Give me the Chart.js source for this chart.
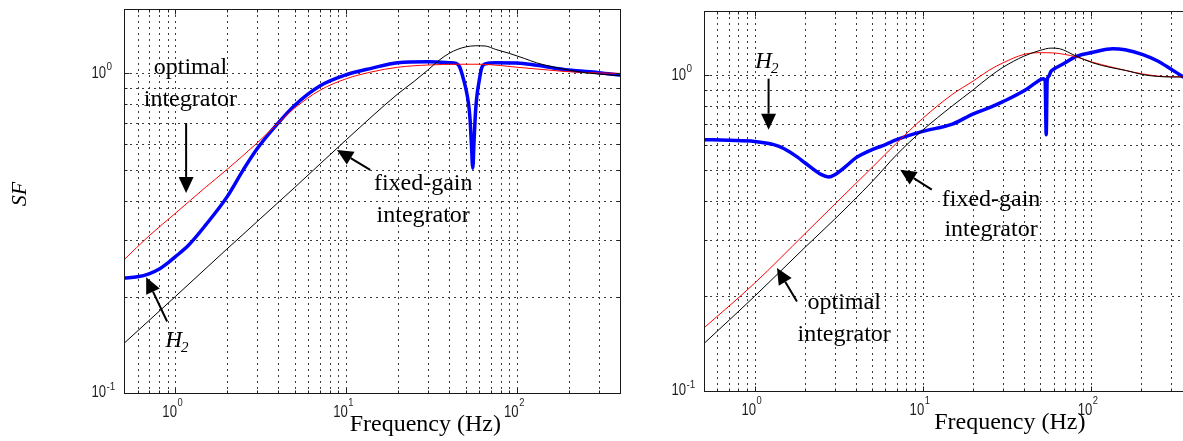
<!DOCTYPE html>
<html><head><meta charset="utf-8">
<script src="https://cdn.jsdelivr.net/npm/chart.js@4.4.1/dist/chart.umd.min.js"></script>
<style>
html,body{margin:0;padding:0;background:#fff;overflow:hidden;width:1183px;height:441px;position:relative;}
canvas{position:absolute;top:0;}
#c1{left:0;}
#c2{left:630px;}
</style></head><body>
<canvas id="c1" width="630" height="441"></canvas>
<canvas id="c2" width="570" height="441"></canvas>
<script>
// ---------- tick values ----------
const xGridTicks = [0.6,0.7,0.8,0.9,1,2,3,4,5,6,7,8,9,10,20,30,40,50,60,70,80,90,100,200,300,400];
const yGridTicks = [0.2,0.3,0.4,0.5,0.6,0.7,0.8,0.9,1];
const xLabelTicks = [1,10,100];
const yLabelTicks = [0.1,1];

// ---------- left panel data ----------
const leftFixedFreq = [0.5,1,2,5,10,20,25,30,35,40,45,50,57,65,75,90,110,130,160,200,250,300,400];
const leftFixedSF   = [0.143,0.2005,0.282,0.44,0.62,0.862,0.945,1.024,1.10,1.155,1.19,1.21,1.22,1.218,1.188,1.155,1.114,1.079,1.049,1.024,1.005,0.995,0.983];

const leftOptFreq = [0.5,0.7,1,1.5,2,3,4,5,7,10,14,20,30,45,60,80,100,150,200,300,400];
const leftOptSF   = [0.261,0.31,0.365,0.44,0.50,0.605,0.70,0.78,0.885,0.962,1.01,1.045,1.062,1.068,1.068,1.058,1.045,1.025,1.012,1.003,1.0];

const leftH2Freq = [0.5,0.6,0.7,0.8,0.9,1,1.2,1.5,2,2.5,3,4,5,7,10,14,20,30,40,44,46,48,50,52,53,54,55,56,57,58,60,62,65,75,100,130,200,300,400];
const leftH2SF   = [0.229,0.231,0.236,0.244,0.255,0.267,0.291,0.335,0.41,0.5,0.58,0.70,0.795,0.913,0.99,1.037,1.08,1.087,1.08,1.075,1.05,0.98,0.9,0.8,0.72,0.6,0.505,0.62,0.75,0.84,0.95,1.04,1.07,1.08,1.078,1.06,1.024,1.005,0.988];

// ---------- right panel data ----------
const rightFixedFreq = [0.5,1,2,3,5,7,10,15,20,25,30,40,50,58,65,82,103,130,163,204,250,300,400];
const rightFixedSF   = [0.141,0.199,0.285,0.35,0.46,0.56,0.67,0.80,0.90,0.99,1.06,1.15,1.2,1.22,1.215,1.15,1.095,1.06,1.035,1.005,0.992,0.988,0.988];

const rightOptFreq = [0.5,1,2,3,5,7,10,15,20,25,30,40,50,60,70,82,103,130,163,204,250,300,400];
const rightOptSF   = [0.158,0.219,0.315,0.39,0.51,0.61,0.73,0.87,0.96,1.04,1.095,1.165,1.18,1.178,1.165,1.144,1.10,1.065,1.035,1.01,0.995,0.99,0.99];

const rightH2Freq = [0.5,0.7,1,1.3,1.5,1.8,2,2.5,2.75,3,3.5,4,5,6,7,10,15,20,26,30,41,48,52,53.5,54.3,55,56,58,60,70,82,103,135,160,204,250,282,338,400];
const rightH2SF   = [0.625,0.622,0.617,0.603,0.585,0.55,0.527,0.484,0.476,0.484,0.515,0.547,0.581,0.603,0.625,0.664,0.70,0.755,0.797,0.825,0.90,0.955,0.975,0.96,0.648,0.96,0.99,1.03,1.045,1.094,1.149,1.183,1.215,1.205,1.163,1.11,1.068,1.005,0.95];

// ---------- annotations (data units) ----------
const leftNotes = {
  texts: [
    {t:'optimal', f:1.224, v:1.039},
    {t:'integrator', f:1.224, v:0.825},
    {t:'fixed-gain', f:28.2, v:0.451},
    {t:'integrator', f:28.2, v:0.358}
  ],
  arrows: [
    {f1:1.155, v1:0.699, f2:1.155, v2:0.4226},
    {f1:13.8, v1:0.499, f2:8.82, v2:0.576},
    {f1:0.894, v1:0.1674, f2:0.674, v2:0.2304}
  ],
  h2: {f:0.874, v:0.1395},
  titleFreq: 29
};
const rightNotes = {
  texts: [
    {t:'fixed-gain', f:25.5, v:0.403},
    {t:'integrator', f:25.5, v:0.3236},
    {t:'optimal', f:3.41, v:0.19},
    {t:'integrator', f:3.41, v:0.150}
  ],
  arrows: [
    {f1:1.211, v1:0.976, f2:1.211, v2:0.672},
    {f1:11.33, v1:0.4336, f2:7.34, v2:0.502},
    {f1:1.786, v1:0.1916, f2:1.359, v2:0.2446}
  ],
  h2: {f:1.01, v:1.056},
  titleFreq: 33
};

const SERIF = '"Liberation Serif", "Times New Roman", serif';
const SANS = '"Liberation Sans", Arial, sans-serif';

function pts(fs, vs){ return fs.map((f,i)=>({x:f, y:vs[i]})); }

function scaledText(ctx, txt, x, y, size, sx, align){
  ctx.save();
  ctx.translate(x, y);
  ctx.scale(sx, 1);
  ctx.font = size + 'px ' + SANS;
  ctx.textAlign = align;
  ctx.textBaseline = 'middle';
  ctx.fillText(txt, 0, 0);
  ctx.restore();
}

function arrow(ctx, x1, y1, x2, y2){
  const a = Math.atan2(y2-y1, x2-x1);
  const hl = 16, hw = 7.5;
  const bx = x2 - hl*Math.cos(a), by = y2 - hl*Math.sin(a);
  ctx.save();
  ctx.strokeStyle = '#000'; ctx.fillStyle = '#000';
  ctx.lineWidth = 2;
  ctx.beginPath(); ctx.moveTo(x1, y1); ctx.lineTo(bx, by); ctx.stroke();
  ctx.beginPath();
  ctx.moveTo(x2, y2);
  ctx.lineTo(bx + hw*Math.sin(a), by - hw*Math.cos(a));
  ctx.lineTo(bx - hw*Math.sin(a), by + hw*Math.cos(a));
  ctx.closePath(); ctx.fill();
  ctx.restore();
}

function makePlugin(notes, showSF){
  return {
    id: 'panelDecor',
    beforeDatasetsDraw(chart){
      const ctx = chart.ctx, ca = chart.chartArea;
      const xs = chart.scales.x, ys = chart.scales.y;
      ctx.save();
      ctx.strokeStyle = '#3a3a3a';
      ctx.lineWidth = 1;
      ctx.setLineDash([2,4]);
      xs.ticks.forEach(t => {
        const p = Math.round(xs.getPixelForValue(t.value)) + 0.5;
        if (p <= ca.left + 1 || p >= ca.right - 1) return;
        ctx.beginPath(); ctx.moveTo(p, ca.top); ctx.lineTo(p, ca.bottom); ctx.stroke();
      });
      ys.ticks.forEach(t => {
        const p = Math.round(ys.getPixelForValue(t.value)) + 0.5;
        if (p <= ca.top + 1 || p >= ca.bottom - 1) return;
        ctx.beginPath(); ctx.moveTo(ca.left, p); ctx.lineTo(ca.right, p); ctx.stroke();
      });
      ctx.restore();
    },
    afterDatasetsDraw(chart){
      const ctx = chart.ctx, ca = chart.chartArea;
      const xs = chart.scales.x, ys = chart.scales.y;
      const L = Math.round(ca.left) + 0.5, R = Math.round(ca.right) + 0.5;
      const T = Math.round(ca.top) + 0.5, B = Math.round(ca.bottom) + 0.5;
      ctx.save();
      // tick marks (inward)
      ctx.strokeStyle = '#222'; ctx.lineWidth = 1;
      xs.ticks.forEach(t => {
        const p = Math.round(xs.getPixelForValue(t.value)) + 0.5;
        const len = xLabelTicks.includes(t.value) ? 5 : 3;
        ctx.beginPath(); ctx.moveTo(p, B); ctx.lineTo(p, B - len);
        ctx.moveTo(p, T); ctx.lineTo(p, T + len); ctx.stroke();
      });
      ys.ticks.forEach(t => {
        const p = Math.round(ys.getPixelForValue(t.value)) + 0.5;
        const len = yLabelTicks.includes(t.value) ? 5 : 3;
        ctx.beginPath(); ctx.moveTo(L, p); ctx.lineTo(L + len, p);
        ctx.moveTo(R, p); ctx.lineTo(R - len, p); ctx.stroke();
      });
      // box
      ctx.strokeStyle = '#1a1a1a';
      ctx.strokeRect(L, T, R - L, B - T);
      // tick labels
      ctx.fillStyle = '#1e1e1e';
      xLabelTicks.forEach(v => {
        const p = xs.getPixelForValue(v);
        if (p < ca.left - 5 || p > ca.right + 5) return;
        const e = Math.round(Math.log10(v));
        scaledText(ctx, '10', p + 1.5, ca.bottom + 20, 16, 0.82, 'right');
        scaledText(ctx, String(e), p + 2, ca.bottom + 10, 11, 0.85, 'left');
      });
      yLabelTicks.forEach(v => {
        const p = ys.getPixelForValue(v);
        const e = Math.round(Math.log10(v));
        scaledText(ctx, '10', ca.left - 18, p, 16, 0.82, 'right');
        scaledText(ctx, String(e), ca.left - 17.5, p - 6, 11, 0.9, 'left');
      });
      // annotations
      ctx.fillStyle = '#000';
      ctx.font = '24px ' + SERIF;
      ctx.textAlign = 'center';
      ctx.textBaseline = 'middle';
      notes.texts.forEach(n => {
        ctx.fillText(n.t, xs.getPixelForValue(n.f), ys.getPixelForValue(n.v));
      });
      notes.arrows.forEach(a => {
        arrow(ctx, xs.getPixelForValue(a.f1), ys.getPixelForValue(a.v1),
                   xs.getPixelForValue(a.f2), ys.getPixelForValue(a.v2));
      });
      const hx = xs.getPixelForValue(notes.h2.f), hy = ys.getPixelForValue(notes.h2.v);
      ctx.textAlign = 'left'; ctx.textBaseline = 'alphabetic';
      ctx.font = 'italic 23px ' + SERIF;
      ctx.fillText('H', hx, hy);
      const hw = ctx.measureText('H').width;
      ctx.font = 'italic 15px ' + SERIF;
      ctx.fillText('2', hx + hw - 1, hy + 5);
      // x-axis title
      ctx.font = '24px ' + SERIF;
      ctx.textAlign = 'center';
      ctx.fillText('Frequency (Hz)', xs.getPixelForValue(notes.titleFreq), ca.bottom + 38);
      if (showSF) {
        ctx.save();
        ctx.translate(20, 194);
        ctx.rotate(-Math.PI/2);
        ctx.font = 'italic 22px ' + SERIF;
        ctx.textAlign = 'center'; ctx.textBaseline = 'middle';
        ctx.fillText('SF', 0, 0);
        ctx.restore();
      }
      ctx.restore();
    }
  };
}

function makePanel(id, series, geom, notes, showSF){
  const datasets = [
    {label:'fixed-gain integrator', data: pts(series.fixedF, series.fixedV), borderColor:'#000000', borderWidth:1, pointRadius:0, cubicInterpolationMode:'monotone'},
    {label:'optimal integrator', data: pts(series.optF, series.optV), borderColor:'#ff0000', borderWidth:1, pointRadius:0, cubicInterpolationMode:'monotone'},
    {label:'H2', data: pts(series.h2F, series.h2V), borderColor:'#0000ff', borderWidth:3.5, pointRadius:0, cubicInterpolationMode:'monotone', borderJoinStyle:'round', borderCapStyle:'round'}
  ];
  return new Chart(document.getElementById(id), {
    type: 'line',
    data: { datasets },
    options: {
      responsive: false,
      animation: false,
      devicePixelRatio: 1,
      events: [],
      parsing: false,
      layout: { padding: { left: 0, top: geom.top, right: geom.right, bottom: 0 } },
      plugins: { legend: {display:false}, tooltip: {enabled:false} },
      scales: {
        x: {
          type: 'logarithmic', min: 0.5, max: 400,
          ticks: {display:false}, grid: {display:false}, border: {display:false},
          afterBuildTicks: s => { s.ticks = xGridTicks.map(v => ({value:v})); },
          afterFit: s => { s.height = geom.axisH; }
        },
        y: {
          type: 'logarithmic', min: 0.1, max: geom.yMax,
          ticks: {display:false}, grid: {display:false}, border: {display:false},
          afterBuildTicks: s => { s.ticks = yGridTicks.map(v => ({value:v})); },
          afterFit: s => { s.width = geom.axisW; }
        }
      }
    },
    plugins: [makePlugin(notes, showSF)]
  });
}

makePanel('c1',
  {fixedF:leftFixedFreq, fixedV:leftFixedSF, optF:leftOptFreq, optV:leftOptSF, h2F:leftH2Freq, h2V:leftH2SF},
  {top:9, right:10, axisH:48, axisW:124, yMax:1.59}, leftNotes, true);
makePanel('c2',
  {fixedF:rightFixedFreq, fixedV:rightFixedSF, optF:rightOptFreq, optV:rightOptSF, h2F:rightH2Freq, h2V:rightH2SF},
  {top:11, right:8, axisH:50.5, axisW:74, yMax:1.6}, rightNotes, false);
</script>
</body></html>
